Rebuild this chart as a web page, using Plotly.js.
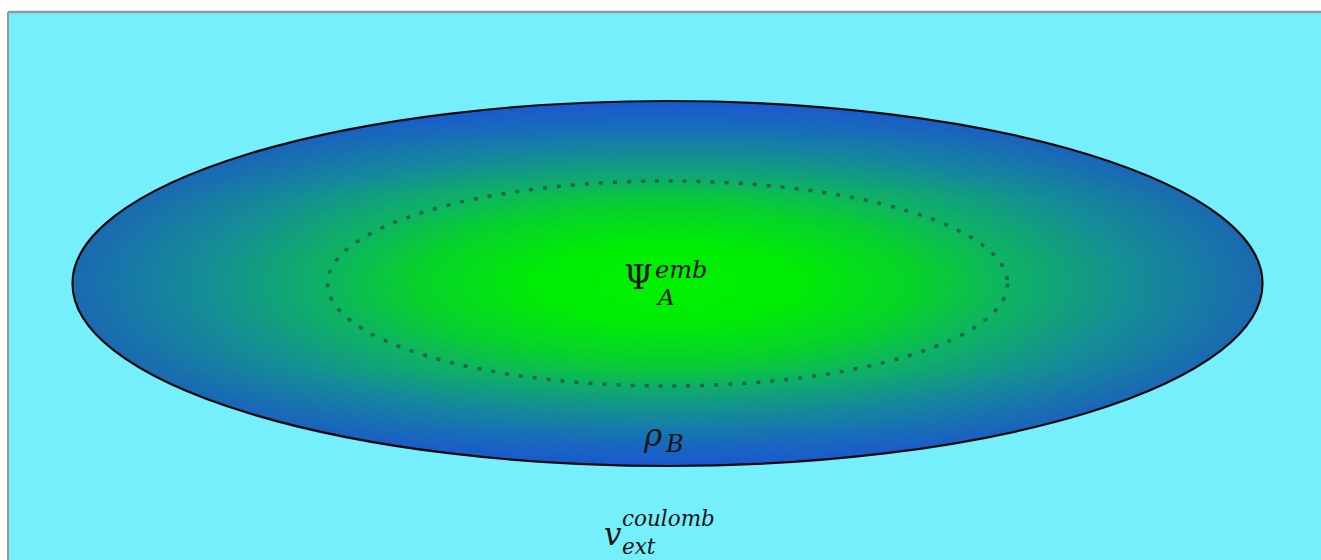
<!DOCTYPE html>
<html>
<head>
<meta charset="utf-8">
<script src="https://cdn.plot.ly/plotly-3.0.1.min.js"></script>
<style>html,body{margin:0;padding:0;background:#fff;}#chart{width:1321px;height:560px;}</style>
</head>
<body>
<div id="chart"></div>
<script>
// ---- data (labels of the diagram regions) ----
const regionNames = ["embedded subsystem A", "environment density B", "external Coulomb potential"];
const mainSymbols = ["Ψ", "ρ", "v"];
const superscripts = ["emb", "", "coulomb"];
const subscripts = ["A", "B", "ext"];

// ---- geometry (layout only) ----
const CX = 667.5, CY = 283.5;
const OUTER = {a: 595, b: 182.5};
const INNER = {a: 340, b: 102.5};

// gradient texture drawn on a canvas, then placed via axes
function gradientImage() {
  const S = 600;
  const c = document.createElement('canvas');
  c.width = S; c.height = S;
  const ctx = c.getContext('2d');
  ctx.beginPath();
  ctx.arc(S/2, S/2, S/2, 0, 2*Math.PI);
  ctx.clip();
  const g = ctx.createRadialGradient(S/2, S/2, 0, S/2, S/2, S/2);
  g.addColorStop(0.00, '#00f200');
  g.addColorStop(0.22, '#01ec06');
  g.addColorStop(0.42, '#07d22c');
  g.addColorStop(0.58, '#0fb264');
  g.addColorStop(0.78, '#158e96');
  g.addColorStop(1.00, '#1a6ab2');
  ctx.fillStyle = g;
  ctx.fillRect(0, 0, S, S);
  const v = ctx.createLinearGradient(0, 0, 0, S);
  v.addColorStop(0.00, 'rgba(26,80,225,0.65)');
  v.addColorStop(0.12, 'rgba(26,80,225,0.22)');
  v.addColorStop(0.26, 'rgba(26,80,225,0.0)');
  v.addColorStop(0.74, 'rgba(26,80,225,0.0)');
  v.addColorStop(0.88, 'rgba(26,80,225,0.22)');
  v.addColorStop(1.00, 'rgba(26,80,225,0.65)');
  ctx.fillStyle = v;
  ctx.fillRect(0, 0, S, S);
  return c.toDataURL('image/png');
}

const serif = "DejaVu Serif, Liberation Serif, serif";
function ann(text, x, y, size, italic, xanchor, yanchor) {
  return {
    text: italic ? '<i>' + text + '</i>' : text,
    x: x, y: y, xref: 'x', yref: 'y', showarrow: false, align: 'left',
    xanchor: xanchor || 'left', yanchor: yanchor || 'middle', borderpad: 0,
    font: {family: serif, size: size, color: '#151515'}
  };
}

const annotations = [
  // Psi_A^emb
  ann(mainSymbols[0], 654, 277, 33, false, 'right'),
  ann(superscripts[0], 654, 270, 24, true),
  ann(subscripts[0], 655, 297, 23, true),
  // rho_B
  ann(mainSymbols[1], 663, 435, 31, true, 'right'),
  ann(subscripts[1], 664, 444, 24, true),
  // v_ext^coulomb (superscript and subscript stacked in one text)
  ann(mainSymbols[2], 623, 534, 31, true, 'right'),
  ann(superscripts[2] + '<br>' + subscripts[2], 621, 559.5, 21.5, true, 'left', 'bottom')
];

const layout = {
  width: 1321, height: 560,
  margin: {l: 8, r: 0, t: 12, b: 0},
  paper_bgcolor: '#ffffff',
  plot_bgcolor: '#76effd',
  showlegend: false,
  xaxis: {range: [8, 1321], visible: false, fixedrange: true, showgrid: false, zeroline: false},
  yaxis: {range: [560, 12], visible: false, fixedrange: true, showgrid: false, zeroline: false},
  images: [{
    source: gradientImage(),
    xref: 'x', yref: 'y',
    x: CX - OUTER.a, y: CY - OUTER.b,
    sizex: 2*OUTER.a, sizey: 2*OUTER.b,
    sizing: 'stretch', xanchor: 'left', yanchor: 'top', layer: 'below'
  }],
  shapes: [
    {type: 'line', xref: 'paper', yref: 'paper', x0: 0, x1: 1, y0: 1, y1: 1,
     line: {color: '#8a9c9c', width: 2.5}},
    {type: 'line', xref: 'paper', yref: 'paper', x0: 0, x1: 0, y0: 0, y1: 1,
     line: {color: '#8a9c9c', width: 2}},
    {type: 'circle', xref: 'x', yref: 'y',
     x0: CX - OUTER.a, x1: CX + OUTER.a, y0: CY - OUTER.b, y1: CY + OUTER.b,
     line: {color: '#0a0a0a', width: 2.2}, layer: 'above'},
    {type: 'circle', xref: 'x', yref: 'y',
     x0: CX - INNER.a, x1: CX + INNER.a, y0: CY - INNER.b, y1: CY + INNER.b,
     line: {color: 'rgba(35,70,70,0.7)', width: 3.5, dash: '4px,10px'}, layer: 'above'}
  ],
  annotations: annotations
};

const data = [{
  type: 'scatter', mode: 'markers', x: [], y: [], name: regionNames.join(', '),
  hoverinfo: 'skip'
}];

Plotly.newPlot('chart', data, layout, {staticPlot: true, displayModeBar: false});
</script>
</body>
</html>
